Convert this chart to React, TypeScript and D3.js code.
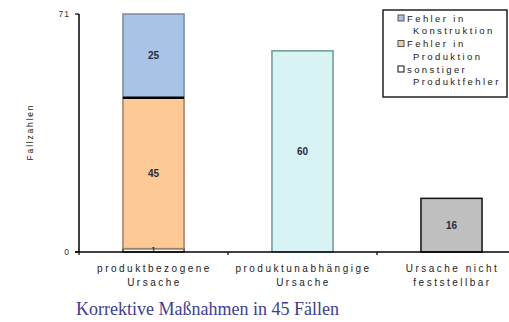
import React, { useEffect, useRef } from 'react';
import * as d3 from 'd3';

// chart data
const categories = ['produktbezogene|Ursache', 'produktunabhängige|Ursache', 'Ursache nicht|feststellbar'];
const sonstiger = [1, 0, 0];
const produktion = [45, 0, 0];
const konstruktion = [25, 0, 0];
const unabhaengig = [0, 60, 0];
const nichtFeststellbar = [0, 0, 16];
const yTicks = [0, 71];
const legendLabels = ['Fehler in|Konstruktion', 'Fehler in|Produktion', 'sonstiger|Produktfehler'];
const title = 'Korrektive Maßnahmen in 45 Fällen';

const keys = ['sonstiger', 'produktion', 'konstruktion', 'unabhaengig', 'nichtFeststellbar'];
const fills = {
  sonstiger: '#ffffff',
  produktion: '#fdc996',
  konstruktion: '#a7c3e6',
  unabhaengig: '#d7f3f3',
  nichtFeststellbar: '#bfbfbf',
};
const strokes = {
  sonstiger: '#111111',
  produktion: '#9c8066',
  konstruktion: '#7c8aa0',
  unabhaengig: '#6d9898',
  nichtFeststellbar: '#111111',
};

function App() {
  const ref = useRef(null);

  useEffect(() => {
    const svg = d3.select(ref.current);
    svg.selectAll('*').remove();

    const font = '"Liberation Sans", Arial, sans-serif';
    const rows = categories.map((c, i) => ({
      cat: c,
      sonstiger: sonstiger[i],
      produktion: produktion[i],
      konstruktion: konstruktion[i],
      unabhaengig: unabhaengig[i],
      nichtFeststellbar: nichtFeststellbar[i],
    }));

    const x = d3.scaleBand()
      .domain(categories)
      .range([79, 526])
      .paddingInner(0.59)
      .paddingOuter(0.295);

    const y = d3.scaleLinear()
      .domain([0, 71])
      .range([252, 14]);

    const series = d3.stack().keys(keys)(rows);

    const g = svg.append('g');
    series.forEach(s => {
      g.selectAll('.b-' + s.key)
        .data(s.filter(d => d[1] - d[0] > 0))
        .join('rect')
        .attr('x', d => x(d.data.cat))
        .attr('y', d => y(d[1]))
        .attr('width', x.bandwidth())
        .attr('height', d => y(d[0]) - y(d[1]))
        .attr('fill', fills[s.key])
        .attr('stroke', strokes[s.key])
        .attr('stroke-width', s.key === 'sonstiger' ? 1.3 : 1.5);
    });

    // thick separator between Produktion and Konstruktion
    categories.forEach((c, i) => {
      if (konstruktion[i] > 0 && produktion[i] > 0) {
        const yy = y(sonstiger[i] + produktion[i]);
        g.append('line')
          .attr('x1', x(c)).attr('x2', x(c) + x.bandwidth())
          .attr('y1', yy).attr('y2', yy)
          .attr('stroke', '#000').attr('stroke-width', 2.5);
      }
    });

    // value labels
    series.forEach(s => {
      s.filter(d => d[1] - d[0] > 0).forEach(d => {
        const v = d[1] - d[0];
        const small = v < 3;
        g.append('text')
          .attr('x', x(d.data.cat) + x.bandwidth() / 2)
          .attr('y', small ? y(d[0]) - 0.5 : (y(d[0]) + y(d[1])) / 2 + 3.5)
          .attr('text-anchor', 'middle')
          .attr('font-family', font)
          .attr('font-size', small ? 7 : 10)
          .attr('font-weight', 'bold')
          .attr('fill', '#2a2a40')
          .text(v);
      });
    });

    // axes
    const axes = svg.append('g').attr('stroke', '#000');
    axes.append('line').attr('x1', 79).attr('x2', 79).attr('y1', y(71)).attr('y2', y(0)).attr('stroke-width', 1.5);
    axes.append('line').attr('x1', 75).attr('x2', 526).attr('y1', y(0)).attr('y2', y(0)).attr('stroke-width', 1.5);
    yTicks.forEach(t => {
      axes.append('line').attr('x1', 75).attr('x2', 79).attr('y1', y(t)).attr('y2', y(t)).attr('stroke-width', 1.2);
      svg.append('text')
        .attr('x', 70).attr('y', y(t) + 3)
        .attr('text-anchor', 'end')
        .attr('font-family', font).attr('font-size', 8.5)
        .attr('letter-spacing', 1)
        .attr('fill', '#333')
        .text(t);
    });
    const step = x.step();
    [0, 1, 2, 3].forEach(i => {
      const xx = 79 + i * step;
      axes.append('line').attr('x1', xx).attr('x2', xx).attr('y1', y(0)).attr('y2', y(0) + 3).attr('stroke-width', 1.2);
    });

    // category labels
    categories.forEach(c => {
      const lines = c.split('|');
      const t = svg.append('text')
        .attr('text-anchor', 'middle')
        .attr('font-family', font)
        .attr('font-size', 10)
        .attr('letter-spacing', 2.5)
        .attr('fill', '#222');
      lines.forEach((l, i) => {
        t.append('tspan')
          .attr('x', x(c) + x.bandwidth() / 2 + 1)
          .attr('y', 272 + i * 14)
          .text(l);
      });
    });

    // y label
    svg.append('text')
      .attr('transform', 'translate(33,132) rotate(-90)')
      .attr('text-anchor', 'middle')
      .attr('font-family', font)
      .attr('font-size', 8.5)
      .attr('letter-spacing', 1.8)
      .attr('fill', '#222')
      .text('Fallzahlen');

    // legend
    const lg = svg.append('g');
    lg.append('rect')
      .attr('x', 383).attr('y', 10).attr('width', 124).attr('height', 87)
      .attr('fill', '#fff').attr('stroke', '#222').attr('stroke-width', 1.5);
    const legendKeys = ['konstruktion', 'produktion', 'sonstiger'];
    legendKeys.forEach((k, i) => {
      const y0 = 18 + i * 25.5;
      lg.append('rect')
        .attr('x', 398).attr('y', y0 - 3).attr('width', 6).attr('height', 6)
        .attr('fill', fills[k]).attr('stroke', k === 'sonstiger' ? '#111' : '#555').attr('stroke-width', 1);
      const parts = legendLabels[i].split('|');
      parts.forEach((p, j) => {
        lg.append('text')
          .attr('x', j === 0 ? 407 : 413)
          .attr('y', y0 + 3.5 + j * 12.5)
          .attr('font-family', font)
          .attr('font-size', 9.5)
          .attr('letter-spacing', 2.4)
          .attr('fill', '#222')
          .text(p);
      });
    });

    // title
    svg.append('text')
      .attr('x', 76).attr('y', 315)
      .attr('font-family', '"Liberation Serif", "Times New Roman", serif')
      .attr('font-size', 18)
      .attr('fill', '#3d3d98')
      .text(title);
  }, []);

  return (
    <svg
      ref={ref}
      width={509}
      height={322}
      style={{ position: 'absolute', left: 0, top: 0, background: '#fff' }}
    />
  );
}

export default App;
